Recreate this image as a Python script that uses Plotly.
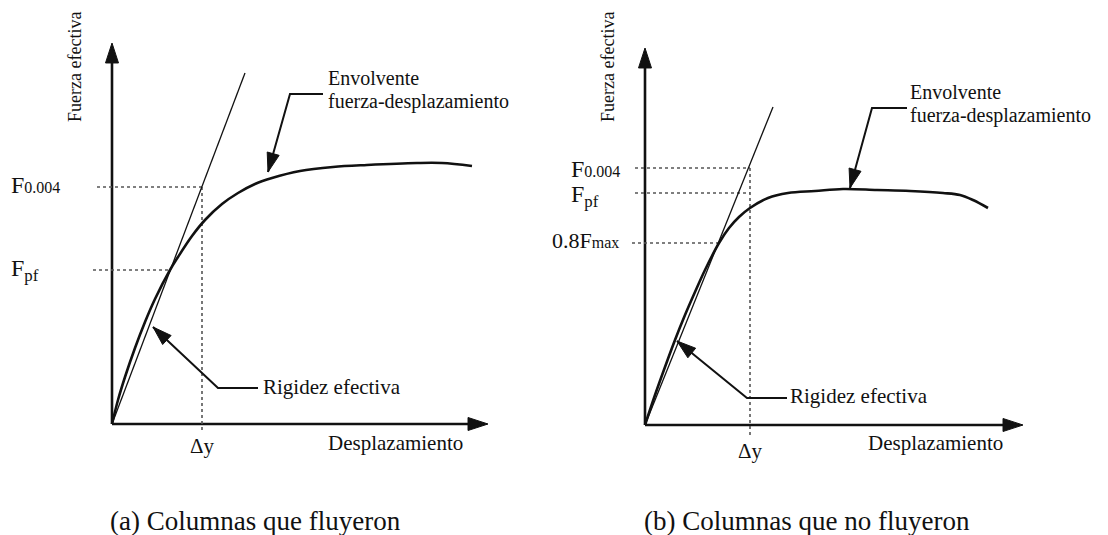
import plotly.graph_objects as go

# ---------------- DATA (drawing units, origin at the axes corner) ----------------
# Panel (a): Columnas que fluyeron
disp_a = [0, 6, 13, 23, 33, 43, 58, 66, 80, 93, 110, 126, 143, 160, 188, 221, 255, 305, 330, 360]
force_a = [0, 24, 47, 76, 102, 125, 154, 167, 188, 204, 220, 231, 240, 246, 253, 257, 259, 261, 261, 258]
stiff_disp_a = [0, 133]
stiff_force_a = [0, 351]
F0004_a = 237
Fpf_a = 154
Fpf_disp_a = 58
dy_a = 90
xaxis_len_a = 376
yaxis_len_a = 381

# Panel (b): Columnas que no fluyeron
disp_b = [0, 10, 20, 30, 40, 50, 60, 74, 84, 94, 105, 123, 143, 170, 198, 232, 265, 298, 315, 328, 343]
force_b = [0, 30, 58, 85, 110, 133, 155, 182, 197, 208, 217, 227, 232, 234, 236, 235, 234, 232, 230, 225, 217]
stiff_disp_b = [0, 128]
stiff_force_b = [0, 318]
F0004_b = 257
Fpf_b = 232
F08max_b = 182
F08max_disp_b = 74
dy_b = 105
xaxis_len_b = 378
yaxis_len_b = 377

captions = ["(a) Columnas que fluyeron", "(b) Columnas que no fluyeron"]

# ---------------- STYLE ----------------
FONT = "Liberation Serif"
INK = "#111111"
DOT = "#555555"

fig = go.Figure()


def line(xs, ys, ax, width=2.0, color=INK, dash=None, arrow_size=None, shape="linear"):
    xa = "x" if ax == 1 else "x2"
    ya = "y" if ax == 1 else "y2"
    kw = dict(x=xs, y=ys, xaxis=xa, yaxis=ya, showlegend=False, hoverinfo="skip")
    ln = dict(width=width, color=color)
    if dash:
        ln["dash"] = dash
    if shape == "spline":
        ln["shape"] = "spline"
        ln["smoothing"] = 1.0
    if arrow_size:
        sizes = [0] * (len(xs) - 1) + [arrow_size]
        kw["mode"] = "lines+markers"
        kw["marker"] = dict(symbol="arrow", size=sizes, angleref="previous",
                            color=color, opacity=1, line=dict(width=1, color=color))
    else:
        kw["mode"] = "lines"
    kw["line"] = ln
    fig.add_trace(go.Scatter(**kw))


annotations = []


def text(ax, x, y, s, size=21, xanchor="center", yanchor="middle", angle=0):
    annotations.append(dict(
        x=x, y=y, xref="x" if ax == 1 else "x2", yref="y" if ax == 1 else "y2",
        text=s, showarrow=False, xanchor=xanchor, yanchor=yanchor, textangle=angle,
        font=dict(family=FONT, size=size, color=INK)))


# ---------- panel (a) ----------
line([0, 0], [0, yaxis_len_a], 1, width=2.6, arrow_size=21)
line([0, xaxis_len_a], [0, 0], 1, width=2.6, arrow_size=21)
line([-15, dy_a], [F0004_a, F0004_a], 1, width=1.6, color=DOT, dash="dot")
line([-19, Fpf_disp_a], [Fpf_a, Fpf_a], 1, width=1.6, color=DOT, dash="dot")
line([dy_a, dy_a], [F0004_a, -9], 1, width=1.6, color=DOT, dash="dot")
line(stiff_disp_a, stiff_force_a, 1, width=1.3)
line(disp_a, force_a, 1, width=2.6, shape="spline")
line([211, 178, 156], [330, 330, 252], 1, width=2.0, arrow_size=20)
line([146, 106, 41], [36, 36, 97], 1, width=2.0, arrow_size=20)

text(1, -37, 357, "Fuerza efectiva", size=18, angle=-90)
text(1, -103, 239, "F<span style='font-size:16px'>0.004</span>", size=24, xanchor="left")
text(1, -103, 154, "F<sub>pf</sub>", size=24, xanchor="left")
text(1, dy_a, -22, "Δy", size=21)
text(1, 283, -19, "Desplazamiento", size=21)
text(1, 214, 346, "Envolvente", size=20, xanchor="left")
text(1, 214, 323, "fuerza-desplazamiento", size=20, xanchor="left")
text(1, 149, 37, "Rigidez efectiva", size=21, xanchor="left")

# ---------- panel (b) ----------
line([0, 0], [0, yaxis_len_b], 2, width=2.6, arrow_size=21)
line([0, xaxis_len_b], [0, 0], 2, width=2.6, arrow_size=21)
line([-10, dy_b], [F0004_b, F0004_b], 2, width=1.6, color=DOT, dash="dot")
line([-10, dy_b], [Fpf_b, Fpf_b], 2, width=1.6, color=DOT, dash="dot")
line([-13, F08max_disp_b], [F08max_b, F08max_b], 2, width=1.6, color=DOT, dash="dot")
line([dy_b, dy_b], [F0004_b, -10], 2, width=1.6, color=DOT, dash="dot")
line(stiff_disp_b, stiff_force_b, 2, width=1.3)
line(disp_b, force_b, 2, width=2.6, shape="spline")
line([262, 227, 205], [317, 317, 237], 2, width=2.0, arrow_size=20)
line([142, 102, 32], [27, 27, 84], 2, width=2.0, arrow_size=20)

text(2, -37, 358, "Fuerza efectiva", size=18, angle=-90)
text(2, -76, 256, "F<span style='font-size:16px'>0.004</span>", size=24, xanchor="left")
text(2, -76, 229, "F<sub>pf</sub>", size=24, xanchor="left")
text(2, -24, 185, "0.8F<span style='font-size:16px'>max</span>", size=22, xanchor="right")
text(2, dy_b, -26, "Δy", size=21)
text(2, 290, -18, "Desplazamiento", size=21)
text(2, 263, 333, "Envolvente", size=20, xanchor="left")
text(2, 263, 310, "fuerza-desplazamiento", size=20, xanchor="left")
text(2, 143, 29, "Rigidez efectiva", size=21, xanchor="left")

# ---------- captions ----------
for cx, cap in zip([0.231, 0.728], captions):
    annotations.append(dict(x=cx, y=0.026, xref="paper", yref="paper", text=cap,
                            showarrow=False, xanchor="center", yanchor="middle",
                            font=dict(family=FONT, size=27, color=INK)))

hidden = dict(visible=False, fixedrange=True)
fig.update_layout(
    width=1108, height=535, autosize=False,
    margin=dict(l=0, r=0, t=0, b=0),
    paper_bgcolor="white", plot_bgcolor="white",
    font=dict(family=FONT, color=INK),
    xaxis=dict(domain=[0, 0.5], range=[-112, 442], **hidden),
    yaxis=dict(domain=[0, 1], range=[-111, 424], **hidden),
    xaxis2=dict(domain=[0.5, 1], range=[-91, 463], anchor="y2", **hidden),
    yaxis2=dict(domain=[0, 1], range=[-110, 425], anchor="x2", **hidden),
    annotations=annotations,
    showlegend=False,
)

fig.write_html("out.html", config={"displayModeBar": False},
               post_script="document.body.style.margin='0';")
